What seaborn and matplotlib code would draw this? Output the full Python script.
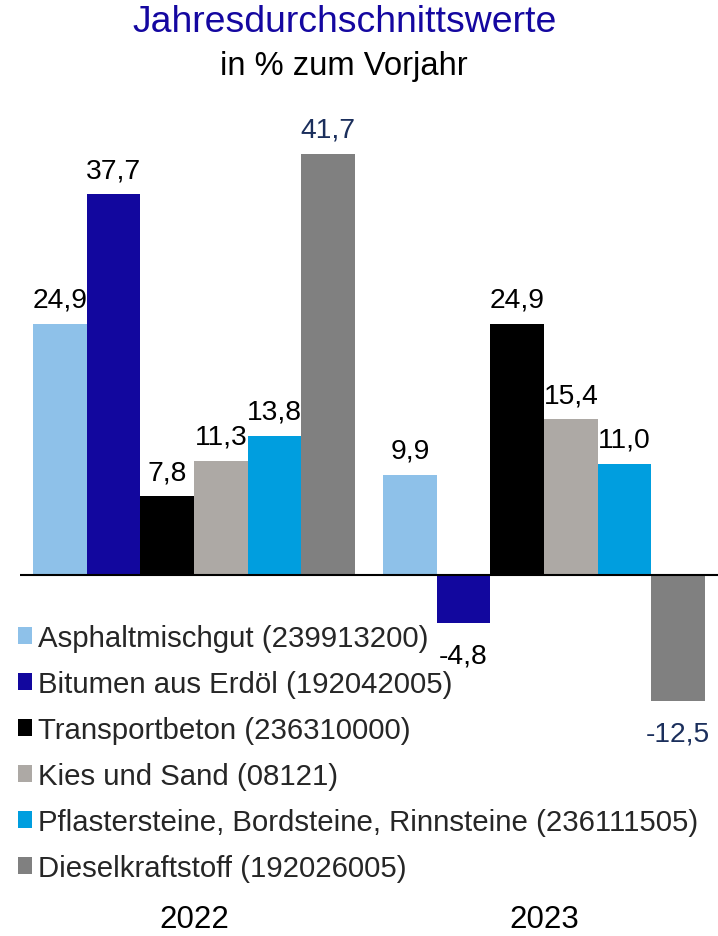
import matplotlib
matplotlib.use("Agg")
import matplotlib.pyplot as plt
from matplotlib.patches import Patch
import seaborn as sns
import pandas as pd

# Data: annual averages, change in % vs. previous year
years = ["2022", "2023"]
products = [
    "Asphaltmischgut (239913200)",
    "Bitumen aus Erdöl (192042005)",
    "Transportbeton (236310000)",
    "Kies und Sand (08121)",
    "Pflastersteine, Bordsteine, Rinnsteine (236111505)",
    "Dieselkraftstoff (192026005)",
]
values_2022 = [24.9, 37.7, 7.8, 11.3, 13.8, 41.7]
values_2023 = [9.9, -4.8, 24.9, 15.4, 11.0, -12.5]

colors = ["#8EC1E9", "#12079E", "#000000", "#ADA9A5", "#009EDF", "#808080"]
label_colors = ["#000000", "#000000", "#000000", "#000000", "#000000", "#1B2F5C"]

rows = []
for year, vals in zip(years, [values_2022, values_2023]):
    for prod, v in zip(products, vals):
        rows.append({"Jahr": year, "Produkt": prod, "Wert": v})
df = pd.DataFrame(rows)

sns.set_theme(style="white")
plt.rcParams["font.family"] = ["Liberation Sans", "DejaVu Sans"]

W, H = 718, 937
fig = plt.figure(figsize=(W / 100, H / 100), dpi=100)

px_per_unit = 10.1
zero_y = 576
ax_top, ax_bot = 130, 893
ax = fig.add_axes([20 / W, 1 - ax_bot / H, 1 - 20 / W, (ax_bot - ax_top) / H])

sns.barplot(
    data=df, x="Jahr", y="Wert", hue="Produkt", hue_order=products,
    order=years, palette=dict(zip(products, colors)), saturation=1,
    width=0.92, linewidth=0, legend=False, ax=ax,
)

ax.set_ylim(-(ax_bot - zero_y) / px_per_unit, (zero_y - ax_top) / px_per_unit)
ax.set_xlim(-0.497, 1.497)
ax.axhline(0, color="black", lw=1.5, zorder=5)
for s in ax.spines.values():
    s.set_visible(False)
ax.set_yticks([])
ax.set_xlabel("")
ax.set_ylabel("")
ax.tick_params(axis="x", length=0, pad=9, labelsize=22.5, colors="black")


def fmt(v):
    return f"{v:.1f}".replace(".", ",")


# Value labels: positive bars above, negative bars below with a bit more room
for cont, lc in zip(ax.containers, label_colors):
    heights = [b.get_height() for b in cont]
    pos = [fmt(h) if h >= 0 else "" for h in heights]
    neg = [fmt(h) if h < 0 else "" for h in heights]
    ax.bar_label(cont, labels=pos, padding=8, fontsize=20.3, color=lc)
    ax.bar_label(cont, labels=neg, padding=14, fontsize=20.3, color=lc)

# Titles
fig.text(345 / W, 1 - 23 / H, "Jahresdurchschnittswerte", ha="center", va="center",
         fontsize=26.9, color="#1407A0")
fig.text(344 / W, 1 - 67 / H, "in % zum Vorjahr", ha="center", va="center",
         fontsize=23.6, color="black")

# Legend
handles = [Patch(facecolor=c, edgecolor="none") for c in colors]
fig.legend(handles, products, loc="upper left", bbox_to_anchor=(18 / W, 1 - 625 / H),
           frameon=False, fontsize=21.2, handlelength=0.48, handleheight=0.48,
           handletextpad=0.2, labelspacing=0.61, borderpad=0, borderaxespad=0)

fig.savefig("out.png", dpi=100)
